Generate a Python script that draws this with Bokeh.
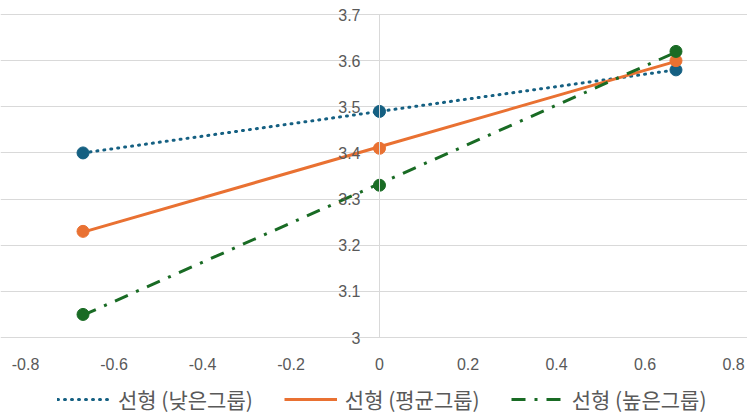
import numpy as np
from bokeh.plotting import figure
from bokeh.models import LinearAxis, FixedTicker, Legend, LegendItem, Range1d, Grid
from bokeh.embed import file_html
from bokeh.resources import INLINE

# ---- data ----
x_vals = [-0.67, 0.0, 0.67]
low_vals = [3.40, 3.49, 3.58]
avg_vals = [3.23, 3.41, 3.60]
high_vals = [3.05, 3.33, 3.62]
series_names = ["선형 (낮은그룹)", "선형 (평균그룹)", "선형 (높은그룹)"]
x_ticks = [-0.8, -0.6, -0.4, -0.2, 0.0, 0.2, 0.4, 0.6, 0.8]
x_tick_labels = ["-0.8", "-0.6", "-0.4", "-0.2", "0", "0.2", "0.4", "0.6", "0.8"]
y_ticks = [3.0, 3.1, 3.2, 3.3, 3.4, 3.5, 3.6, 3.7]
y_tick_labels = ["3", "3.1", "3.2", "3.3", "3.4", "3.5", "3.6", "3.7"]

colors = ["#156082", "#E97132", "#196B24"]
dashes = ["1 6", "solid", "14 9 3 9"]
caps = ["round", "butt", "butt"]

TEXT = "#595959"
GRID = "#D9D9D9"
NUM_FONT = "Liberation Sans"
FONT = "Noto Sans CJK KR"

W, H = 747, 416
# plot area (value -0.8..0.8, 3.0..3.7) spans px 25..733 and 14..337
xs_per_px = 1.6 / (733 - 25)
ys_per_px = 0.7 / (337 - 14)
x_range = Range1d(x_ticks[0] - 25 * xs_per_px, x_ticks[-1] + (W - 733) * xs_per_px)
y_range = Range1d(y_ticks[0] - (H - 337) * ys_per_px, y_ticks[-1] + 14 * ys_per_px)

p = figure(width=W, height=H, output_backend="svg", toolbar_location=None,
           x_range=x_range, y_range=y_range,
           x_axis_location=None, y_axis_location=None, min_border=0)
p.outline_line_color = None
p.grid.visible = False

ygrid = Grid(dimension=1, ticker=FixedTicker(ticks=y_ticks), grid_line_color=GRID,
             grid_line_width=1, bounds=(x_ticks[0], x_ticks[-1]))
p.add_layout(ygrid)

xaxis = LinearAxis(ticker=FixedTicker(ticks=x_ticks), fixed_location=y_ticks[0],
                   bounds=(x_ticks[0], x_ticks[-1]),
                   major_label_overrides={t: l for t, l in zip(x_ticks, x_tick_labels)})
xaxis.axis_line_color = GRID
xaxis.major_tick_line_color = None
xaxis.minor_tick_line_color = None
xaxis.major_label_standoff = 14
xaxis.major_label_text_font = NUM_FONT
xaxis.major_label_text_font_size = "16px"
xaxis.major_label_text_color = TEXT
p.add_layout(xaxis, "below")

yaxis = LinearAxis(ticker=FixedTicker(ticks=y_ticks), fixed_location=0,
                   bounds=(y_ticks[0], y_ticks[-1]),
                   major_label_overrides={t: l for t, l in zip(y_ticks, y_tick_labels)})
yaxis.axis_line_color = GRID
yaxis.major_tick_line_color = None
yaxis.minor_tick_line_color = None
yaxis.major_label_standoff = 13
yaxis.major_label_text_font = NUM_FONT
yaxis.major_label_text_font_size = "16px"
yaxis.major_label_text_color = TEXT
p.add_layout(yaxis, "left")

items = []
xs = np.array(x_vals)
for vals, name, c, d, cap in zip([low_vals, avg_vals, high_vals], series_names, colors, dashes, caps):
    slope, intercept = np.polyfit(xs, np.array(vals), 1)
    fit = slope * xs + intercept
    r = p.line(xs, fit, line_color=c, line_width=3, line_dash=d, line_cap=cap)
    p.scatter(xs, vals, size=12, fill_color=c, line_color=c)
    items.append(LegendItem(label=name, renderers=[r]))

legend = Legend(items=items, location=(57, 2), orientation="horizontal")
legend.background_fill_alpha = 0
legend.border_line_color = None
legend.padding = 0
legend.margin = 0
legend.spacing = 31
legend.glyph_width = 53
legend.glyph_height = 24
legend.label_standoff = 8
legend.label_text_font = FONT
legend.label_text_font_size = "21px"
legend.label_text_color = TEXT
p.add_layout(legend)

open("out.html", "w").write(file_html(p, INLINE))
